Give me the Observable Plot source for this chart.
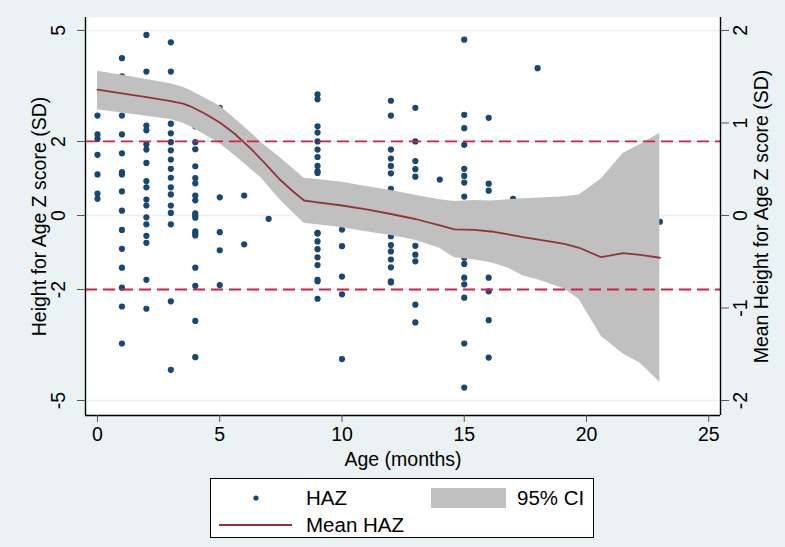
<!DOCTYPE html>
<html>
<head>
<meta charset="utf-8">
<script src="https://cdn.jsdelivr.net/npm/d3@7"></script>
<script src="https://cdn.jsdelivr.net/npm/@observablehq/plot@0.6"></script>
<style>
html, body { margin: 0; padding: 0; background: #eaf2f3; }
#wrap { position: relative; width: 785px; height: 547px; font-family: "Liberation Sans", Arial, sans-serif; }
#chart svg { display: block; }
#legend { position: absolute; left: 210px; top: 478px; width: 384px; height: 60px; background: #fff; border: 1px solid #000; box-sizing: border-box; }
#legend svg { display: block; overflow: visible; }
</style>
</head>
<body>
<div id="wrap"><div id="chart"></div><div id="legend"></div></div>
<script>
// ---- Data ----
// Scatter: HAZ of individual children, grouped by age in months
const scatterAges = [0, 1, 2, 3, 4, 5, 6, 7, 9, 10, 12, 13, 14, 15, 16, 17, 18, 23];
const scatterHaz = [
  [2.70, 2.19, 2.07, 1.64, 1.11, 0.59, 0.45],
  [4.25, 3.76, 2.70, 2.19, 1.68, 1.17, 1.11, 0.65, 0.13, -0.39, -0.90, -1.41, -1.95, -2.46, -3.46],
  [4.88, 3.89, 2.43, 2.30, 1.92, 1.78, 1.42, 0.93, 0.76, 0.43, 0.27, -0.05, -0.24, -0.55, -0.74, -1.74, -2.52],
  [4.68, 3.89, 2.48, 2.22, 1.98, 1.76, 1.51, 1.26, 1.02, 0.76, 0.57, 0.27, 0.07, -0.24, -2.32, -4.17],
  [2.41, 1.98, 1.79, 1.33, 1.01, 0.87, 0.54, 0.41, 0.06, 0.00, -0.06, -0.43, -0.49, -0.54, -1.41, -1.90, -2.85, -3.83],
  [2.91, 0.49, -0.45, -0.94, -1.88],
  [1.58, 0.54, -0.78],
  [-0.09],
  [3.27, 3.14, 2.41, 2.24, 2.00, 1.78, 1.58, 1.34, 1.19, 1.15, -0.47, -0.49, -0.70, -0.91, -1.13, -1.34, -1.74, -1.78, -2.25],
  [-0.38, -0.83, -1.65, -2.13, -3.88],
  [3.10, 2.70, 1.78, 1.54, 1.34, 1.14, 0.72, -0.56, -0.80, -0.97, -1.19, -1.40, -1.78, -1.81],
  [2.91, 2.00, 1.47, 1.25, 1.05, -0.82, -1.06, -1.24, -2.41, -2.89],
  [0.97],
  [4.75, 2.72, 2.36, 1.91, 1.26, 1.07, 0.89, 0.51, -1.14, -1.31, -1.68, -1.86, -2.22, -3.46, -4.65],
  [2.64, 0.86, 0.67, -1.68, -2.05, -2.83, -3.84],
  [0.45],
  [3.98],
  [-0.17]
];

// Mean HAZ and 95% CI (right axis units)
const ciAge   = [0, 1, 2, 3, 3.5, 3.8, 4.4, 5.0, 5.6, 6.3, 6.7, 7.0, 7.5, 8.0, 8.45, 9, 10, 11, 12, 13, 14, 14.6, 15.4, 16.1, 16.8, 17.4, 18.1, 19.1, 19.7, 20.6, 21.5, 22.2, 23];
const meanHaz = [1.36, 1.32, 1.28, 1.235, 1.21, 1.18, 1.10, 1.005, 0.886, 0.714, 0.605, 0.519, 0.378, 0.259, 0.162, 0.141, 0.108, 0.065, 0.016, -0.038, -0.108, -0.151, -0.155, -0.173, -0.205, -0.234, -0.263, -0.306, -0.349, -0.451, -0.408, -0.425, -0.457];
const ciUpper = [1.560, 1.515, 1.470, 1.425, 1.386, 1.351, 1.267, 1.183, 1.050, 0.890, 0.785, 0.723, 0.619, 0.506, 0.403, 0.389, 0.358, 0.314, 0.270, 0.219, 0.171, 0.151, 0.162, 0.156, 0.169, 0.182, 0.189, 0.203, 0.222, 0.395, 0.670, 0.768, 0.890];
const ciLower = [1.143, 1.108, 1.072, 1.037, 0.998, 0.962, 0.871, 0.779, 0.650, 0.495, 0.404, 0.310, 0.158, 0.029, -0.083, -0.101, -0.132, -0.175, -0.216, -0.267, -0.355, -0.458, -0.479, -0.510, -0.568, -0.651, -0.703, -0.795, -0.909, -1.306, -1.498, -1.598, -1.802];

// Axes
const xTicks = [0, 5, 10, 15, 20, 25];
const leftTicks = [-5, -2, 0, 2, 5];
const rightTicks = [-2, -1, 0, 1, 2];
const refLines = [-2, 2];
const xLabel = "Age (months)";
const leftLabel = "Height for Age Z score (SD)";
const rightLabel = "Mean Height for Age Z score (SD)";
const legendLabels = ["HAZ", "95% CI", "Mean HAZ"];

// ---- Build tables ----
const R = 2.5; // left-axis units per right-axis unit
const points = scatterAges.flatMap((a, i) => scatterHaz[i].map(v => ({age: a, haz: v})));
const ci = ciAge.map((a, i) => ({age: a, mean: meanHaz[i] * R, lo: ciLower[i] * R, hi: ciUpper[i] * R}));

const xDomain = [-0.49, 25.48];
const yDomain = [-5.405, 5.35];
const font = "'Liberation Sans', Arial, sans-serif";
const fs = 19.5;
const fsLegend = 20.5;

const chart = Plot.plot({
  width: 785,
  height: 478,
  marginLeft: 85,
  marginRight: 65,
  marginTop: 17,
  marginBottom: 63,
  style: {fontFamily: font, fontSize: fs + "px", background: "transparent", color: "#000", overflow: "visible"},
  x: {domain: xDomain},
  y: {domain: yDomain},
  marks: [
    Plot.frame({fill: "white", stroke: null}),
    Plot.gridY(leftTicks, {stroke: "#eaf2f3", strokeOpacity: 1, strokeWidth: 1.6}),
    Plot.dot(points, {x: "age", y: "haz", r: 3.1, fill: "#1a476f", stroke: null}),
    Plot.areaY(ci, {x: "age", y1: "lo", y2: "hi", fill: "#c0c0c0", fillOpacity: 1}),
    Plot.line(ci, {x: "age", y: "mean", stroke: "#90353b", strokeWidth: 1.8}),
    Plot.ruleY(refLines, {stroke: "#d11f47", strokeWidth: 1.8, strokeDasharray: "12,6"}),
    Plot.ruleX([xDomain[0], xDomain[1]], {stroke: "#000", strokeWidth: 1.4}),
    Plot.ruleY([yDomain[0]], {stroke: "#000", strokeWidth: 1.4}),
    Plot.axisX({ticks: xTicks, tickSize: 7, tickPadding: 5, stroke: "#555", fontSize: fs,
      tickFormat: d => String(d), label: xLabel, labelAnchor: "center", labelArrow: "none", labelOffset: 50}),
    Plot.axisY({anchor: "left", ticks: leftTicks, tickSize: 8, tickPadding: 13, stroke: "#555", fontSize: fs,
      tickRotate: -90, textAnchor: "middle", lineAnchor: "bottom", tickFormat: d => String(d),
      label: leftLabel, labelAnchor: "center", labelArrow: "none", labelOffset: 53}),
    Plot.axisY({anchor: "right", ticks: rightTicks.map(v => v * R), tickSize: 8, tickPadding: 5, stroke: "#555", fontSize: fs,
      tickRotate: -90, textAnchor: "middle", lineAnchor: "top", tickFormat: d => String(d / R),
      label: rightLabel, labelAnchor: "center", labelArrow: "none", labelOffset: 47})
  ]
});
document.getElementById("chart").appendChild(chart);

// ---- Legend (HTML/SVG below the chart) ----
const lg = d3.select("#legend").append("svg").attr("width", 382).attr("height", 58)
  .style("font-family", font).style("font-size", fsLegend + "px");
// box origin is at page (211, 479)
lg.append("circle").attr("cx", 256 - 211).attr("cy", 498 - 479).attr("r", 2.6).attr("fill", "#1a476f");
lg.append("text").attr("x", 306 - 211).attr("y", 498 - 479).attr("dy", "0.35em").text(legendLabels[0]);
lg.append("rect").attr("x", 431 - 211).attr("y", 488 - 479).attr("width", 75).attr("height", 20).attr("fill", "#c0c0c0");
lg.append("text").attr("x", 517 - 211).attr("y", 498 - 479).attr("dy", "0.35em").text(legendLabels[1]);
lg.append("line").attr("x1", 219 - 211).attr("x2", 292 - 211).attr("y1", 525 - 479).attr("y2", 525 - 479)
  .attr("stroke", "#90353b").attr("stroke-width", 1.8);
lg.append("text").attr("x", 306 - 211).attr("y", 525 - 479).attr("dy", "0.35em").text(legendLabels[2]);
</script>
</body>
</html>
